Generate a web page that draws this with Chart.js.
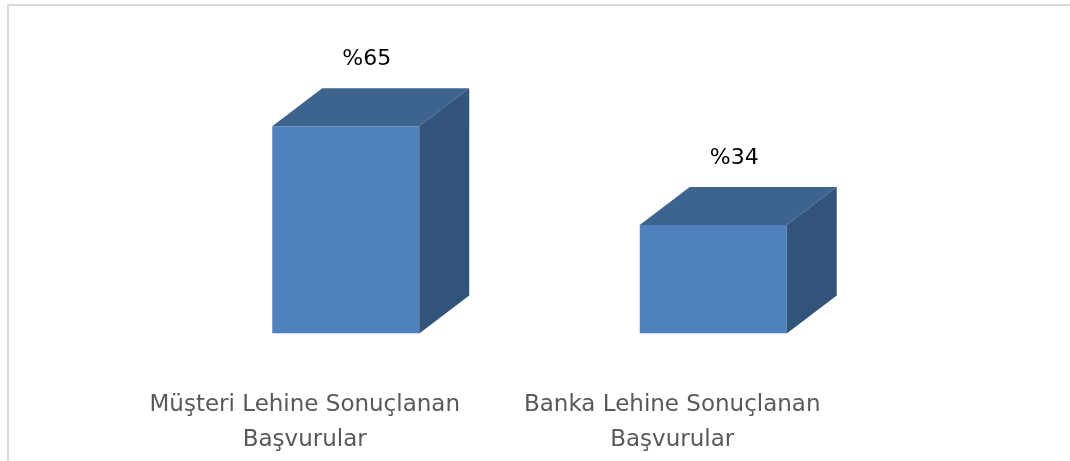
<!DOCTYPE html>
<html>
<head>
<meta charset="utf-8">
<script src="https://cdn.jsdelivr.net/npm/chart.js@4"></script>
<style>
  html, body { margin: 0; padding: 0; background: #ffffff; overflow: hidden; }
  #frame {
    position: absolute; left: 7px; top: 4px; width: 1100px; height: 500px;
    border: 2px solid #d9d9d9; box-sizing: border-box;
  }
  #chart { position: absolute; left: 0; top: 0; }
</style>
</head>
<body>
<div id="frame"></div>
<canvas id="chart" width="1070" height="461"></canvas>
<script>
const categories = [
  ['Müşteri Lehine Sonuçlanan', 'Başvurular'],
  ['Banka Lehine Sonuçlanan', 'Başvurular']
];
const values = [65, 34];
const valueLabels = ['%65', '%34'];

const FRONT = '#4f81bd';
const TOP = '#3d638f';
const SIDE = '#32537a';
const FONT = "'DejaVu Sans', sans-serif";

// draws the top and side faces plus the value labels
const box3d = {
  id: 'box3d',
  afterDatasetsDraw(chart) {
    const ctx = chart.ctx;
    const meta = chart.getDatasetMeta(0);
    meta.data.forEach((bar, i) => {
      const half = bar.width / 2;
      const l = bar.x - half, r = bar.x + half;
      const t = bar.y, b = bar.base;
      const dx = bar.width * 0.34, dy = dx * 0.76;

      ctx.save();
      ctx.fillStyle = TOP;
      ctx.beginPath();
      ctx.moveTo(l, t);
      ctx.lineTo(l + dx, t - dy);
      ctx.lineTo(r + dx, t - dy);
      ctx.lineTo(r, t);
      ctx.closePath();
      ctx.fill();

      ctx.fillStyle = SIDE;
      ctx.beginPath();
      ctx.moveTo(r, t);
      ctx.lineTo(r + dx, t - dy);
      ctx.lineTo(r + dx, b - dy);
      ctx.lineTo(r, b);
      ctx.closePath();
      ctx.fill();

      ctx.fillStyle = '#000000';
      ctx.font = '22px ' + FONT;
      ctx.textAlign = 'center';
      ctx.textBaseline = 'middle';
      ctx.fillText(valueLabels[i], bar.x + dx * 0.42, t - dy - 29);
      ctx.restore();
    });
  }
};

new Chart(document.getElementById('chart'), {
  type: 'bar',
  data: {
    labels: categories,
    datasets: [{
      data: values,
      backgroundColor: FRONT,
      borderWidth: 0,
      barPercentage: 0.8,
      categoryPercentage: 0.5
    }]
  },
  options: {
    responsive: false,
    animation: false,
    layout: {
      padding: { left: 162, right: 173, top: 14.5, bottom: -51.5 }
    },
    plugins: {
      legend: { display: false },
      tooltip: { enabled: false }
    },
    scales: {
      y: {
        display: false,
        min: 0,
        max: 100
      },
      x: {
        grid: { display: false, drawTicks: false },
        border: { display: false },
        ticks: {
          color: '#595959',
          padding: 54.5,
          labelOffset: -41,
          maxRotation: 0,
          autoSkip: false,
          font: { family: FONT, size: 23, lineHeight: 35 / 23 }
        }
      }
    }
  },
  plugins: [box3d]
});
</script>
</body>
</html>
